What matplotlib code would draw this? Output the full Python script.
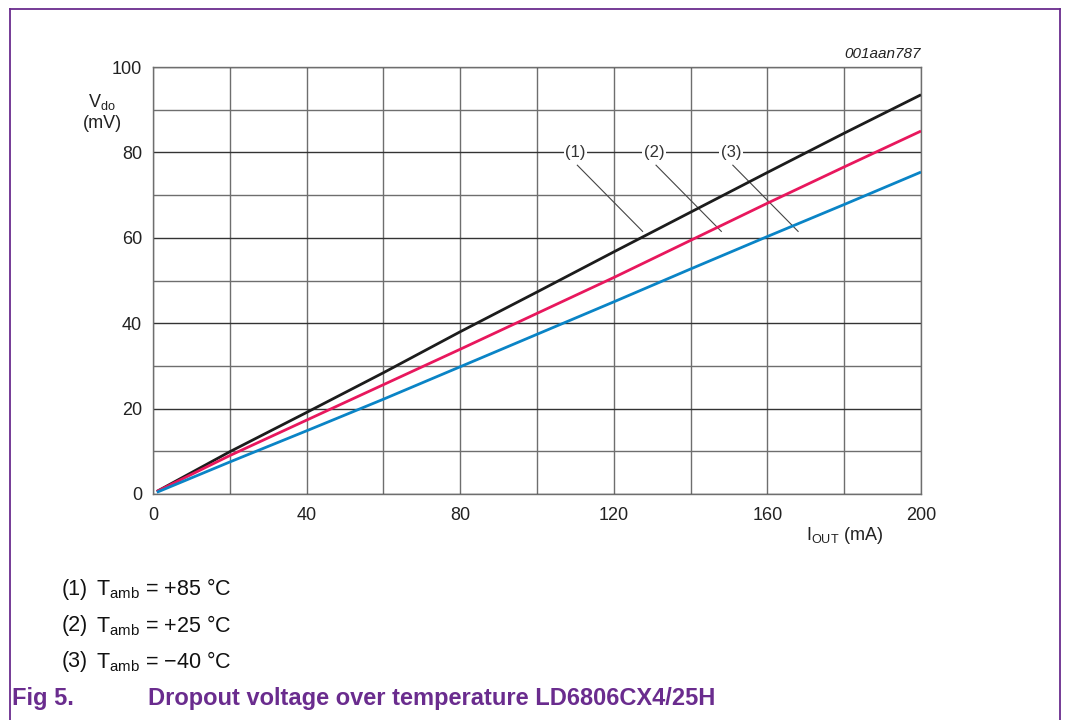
import matplotlib.pyplot as plt
from matplotlib.lines import Line2D

plt.rcParams['font.family'] = ['Liberation Sans', 'DejaVu Sans']
plt.rcParams['mathtext.fontset'] = 'custom'
plt.rcParams['mathtext.rm'] = 'Liberation Sans'
plt.rcParams['mathtext.it'] = 'Liberation Sans:italic'

# data
i_out = [1, 20, 40, 60, 80, 100, 120, 140, 160, 180, 200]
vdo_p85 = [0.6, 9.9, 19.1, 28.4, 38.0, 47.3, 56.7, 66.0, 75.3, 84.5, 93.5]
vdo_p25 = [0.6, 9.0, 17.3, 25.6, 33.9, 42.3, 50.7, 59.4, 68.1, 76.6, 85.0]
vdo_m40 = [0.4, 7.5, 14.8, 22.2, 29.8, 37.4, 45.0, 52.7, 60.3, 67.8, 75.4]
curve_tags = ['(1)', '(2)', '(3)']
tag_x = [110, 130.5, 150.5]
legend_lines = [r'T$_{\rm amb}$ = +85 °C', r'T$_{\rm amb}$ = +25 °C', r'T$_{\rm amb}$ = $-$40 °C']
x_ticks = [0, 40, 80, 120, 160, 200]
y_ticks = [0, 20, 40, 60, 80, 100]

purple = '#6a2c8e'
grid_c = '#6e6e6e'

fig = plt.figure(figsize=(10.66, 7.2), dpi=100)
W, H = 1066.0, 720.0
ax = fig.add_axes([153 / W, 1 - 494 / H, 768 / W, 427 / H])

# grid
for x in range(0, 201, 20):
    ax.axvline(x, color=grid_c, lw=1.0, zorder=1)
for y in range(0, 101, 10):
    ax.axhline(y, color=grid_c if y % 20 else '#333333', lw=1.0, zorder=1)

colors = ['#1c1c1c', '#e8175d', '#0a84c6']
for vals, c in zip([vdo_p85, vdo_p25, vdo_m40], colors):
    ax.plot(i_out, vals, color=c, lw=2.0, zorder=3, solid_capstyle='butt')

# curve tags with leader lines
for tag, tx in zip(curve_tags, tag_x):
    ax.text(tx, 80, tag, ha='center', va='center', fontsize=12, color='#333333',
            bbox=dict(facecolor='white', edgecolor='none', pad=1.0), zorder=4)
    ax.plot([tx + 0.5, tx + 17.5], [77, 61.5], color='#444444', lw=0.8, zorder=2)

ax.set_xlim(0, 200)
ax.set_ylim(0, 100)
ax.set_xticks(x_ticks)
ax.set_yticks(y_ticks)
ax.tick_params(length=0, labelsize=13, pad=8, colors='#222222')
ax.tick_params(axis='x', pad=9)
for s in ax.spines.values():
    s.set_color(grid_c)
    s.set_linewidth(1.0)

ax.text(1.0, 1.015, '001aan787', transform=ax.transAxes, ha='right', va='bottom',
        fontsize=11, style='italic', color='#222222')

fig.text(102 / W, 1 - 102 / H, r'V$_{\rm do}$', ha='center', va='center', fontsize=13, color='#222222')
fig.text(102 / W, 1 - 124 / H, '(mV)', ha='center', va='center', fontsize=13, color='#222222')
fig.text(845 / W, 1 - 535 / H, r'I$_{\rm OUT}$ (mA)', ha='center', va='center', fontsize=13, color='#222222')

# notes under the chart
for k, (tag, txt) in enumerate(zip(curve_tags, legend_lines)):
    yy = 1 - (589 + 36.5 * k) / H
    fig.text(62 / W, yy, tag, ha='left', va='center', fontsize=15.5, color='#111111')
    fig.text(96 / W, yy, txt, ha='left', va='center', fontsize=15.5, color='#111111')

fig.text(12 / W, 1 - 698 / H, 'Fig 5.', ha='left', va='center', fontsize=17,
         fontweight='bold', color=purple)
fig.text(148 / W, 1 - 698 / H, 'Dropout voltage over temperature LD6806CX4/25H', ha='left',
         va='center', fontsize=17, fontweight='bold', color=purple)

# purple frame (open at the bottom)
fig.add_artist(Line2D([10 / W, 10 / W], [0, 1 - 9 / H], color=purple, lw=1.3))
fig.add_artist(Line2D([10 / W, 1060 / W], [1 - 9 / H, 1 - 9 / H], color=purple, lw=1.3))
fig.add_artist(Line2D([1060 / W, 1060 / W], [0, 1 - 9 / H], color=purple, lw=1.3))

fig.savefig('out.png', dpi=100)
